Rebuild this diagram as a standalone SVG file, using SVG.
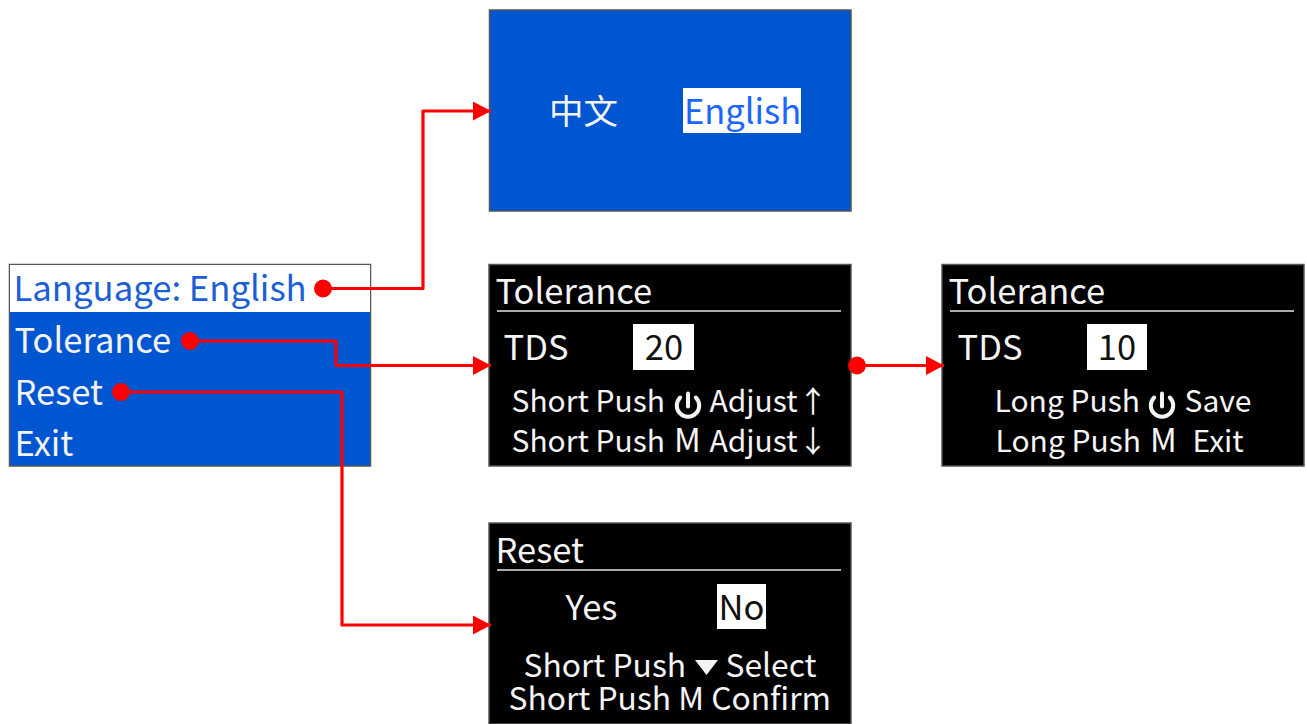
<svg xmlns="http://www.w3.org/2000/svg" width="1307" height="724" viewBox="0 0 1307 724">
<style>
text{font-family:"Noto Sans CJK SC","Noto Sans",sans-serif;fill:#f4f4f4}
.m{font-size:34.500px}
.s{font-size:30px}
.t{font-size:31.800px}
.g{font-size:33px}
.d{fill:#111}
.b{fill:#0055d0}
.k{fill:#000}
.p{stroke:#555;stroke-width:1.500}
.w{fill:#fff}
.r{stroke:#aaa;stroke-width:1.800}
.c{fill:none;stroke:#f00;stroke-width:3.200;stroke-linejoin:round}
.o{fill:#f00}
.i{fill:none;stroke:#f4f4f4;stroke-width:4;stroke-linecap:round}
</style>
<defs>
<marker id="a" markerUnits="userSpaceOnUse" markerWidth="19" markerHeight="20" refX="18" refY="9.500" orient="auto"><path d="M0 0L18 9.500L0 19Z" fill="#f00"/></marker>
<g id="pw"><path class="i" d="M-7.800 -7.500A11.200 11.200 0 1 0 7.800 -7.500"/><path class="i" d="M0 -11.500V1.500"/></g>
</defs>
<g id="menu">
<rect class="b p" x="9.500" y="264.500" width="361" height="201.500"/>
<rect class="w" x="10" y="265" width="360" height="47"/>
<text x="13.500" y="300.500" style="font-size:34.700px;fill:#1a5fd8">Language: English</text>
<text class="m" x="14.500" y="353">Tolerance</text>
<text class="m" x="14.500" y="404.500">Reset</text>
<text class="m" x="14.500" y="456">Exit</text>
</g>
<g id="language">
<rect class="b p" x="489.500" y="10" width="361.500" height="201"/>
<text class="m" x="549" y="124">中文</text>
<rect class="w" x="683" y="88" width="118" height="45"/>
<text class="m" x="684" y="124" style="fill:#1a66ff">English</text>
</g>
<g id="tolerance-20">
<rect class="k p" x="489" y="264.500" width="362" height="201.500"/>
<text class="m" x="495.500" y="303.500">Tolerance</text>
<path class="r" d="M497 311H841"/>
<text class="m" x="503.500" y="360">TDS</text>
<rect class="w" x="633" y="324" width="61" height="46"/>
<text class="m d" x="664" y="360" text-anchor="middle">20</text>
<text class="s" x="511.500" y="412">Short Push</text>
<use href="#pw" x="688" y="405"/>
<text class="s" x="709.500" y="412">Adjust</text>
<text class="s" x="798" y="412">↑</text>
<text class="g" x="674" y="452">M</text>
<text class="s" x="511.500" y="452">Short Push</text>
<text class="s" x="709.500" y="452">Adjust</text>
<text class="s" x="798" y="452">↓</text>
</g>
<g id="tolerance-10">
<rect class="k p" x="942" y="264.500" width="362" height="201.500"/>
<text class="m" x="948.500" y="303.500">Tolerance</text>
<path class="r" d="M950 311H1294"/>
<text class="m" x="957.500" y="360">TDS</text>
<rect class="w" x="1087" y="324" width="60" height="46"/>
<text class="m d" x="1117" y="360" text-anchor="middle">10</text>
<text class="s" x="994.500" y="412">Long Push</text>
<use href="#pw" x="1162" y="405"/>
<text class="s" x="1184.500" y="412">Save</text>
<text class="s" x="995.500" y="452">Long Push</text>
<text class="g" x="1150" y="452">M</text>
<text class="s" x="1192.500" y="452">Exit</text>
</g>
<g id="reset">
<rect class="k p" x="489" y="523" width="362" height="201"/>
<text class="m" x="495.500" y="563">Reset</text>
<path class="r" d="M497 570H841"/>
<text class="m" x="565.500" y="620">Yes</text>
<rect class="w" x="717" y="584" width="49" height="45"/>
<text class="m d" x="741.500" y="620" text-anchor="middle">No</text>
<text class="t" x="523.500" y="677">Short Push</text>
<path d="M695 660H718L706.500 675Z" fill="#f4f4f4"/>
<text class="t" x="725.500" y="677">Select</text>
<text class="t" x="508.500" y="710">Short Push M Confirm</text>
</g>
<g id="connectors">
<path class="c" marker-end="url(#a)" d="M323 288.500H423V111H491"/>
<path class="c" marker-end="url(#a)" d="M190 341H336V365.500H491"/>
<path class="c" marker-end="url(#a)" d="M121 392H342V625H491"/>
<path class="c" marker-end="url(#a)" d="M857 365.500H944"/>
<circle class="o" cx="323" cy="288.500" r="9"/>
<circle class="o" cx="190" cy="341" r="9"/>
<circle class="o" cx="121" cy="392" r="9"/>
<circle class="o" cx="857" cy="365.500" r="9"/>
</g>
</svg>
